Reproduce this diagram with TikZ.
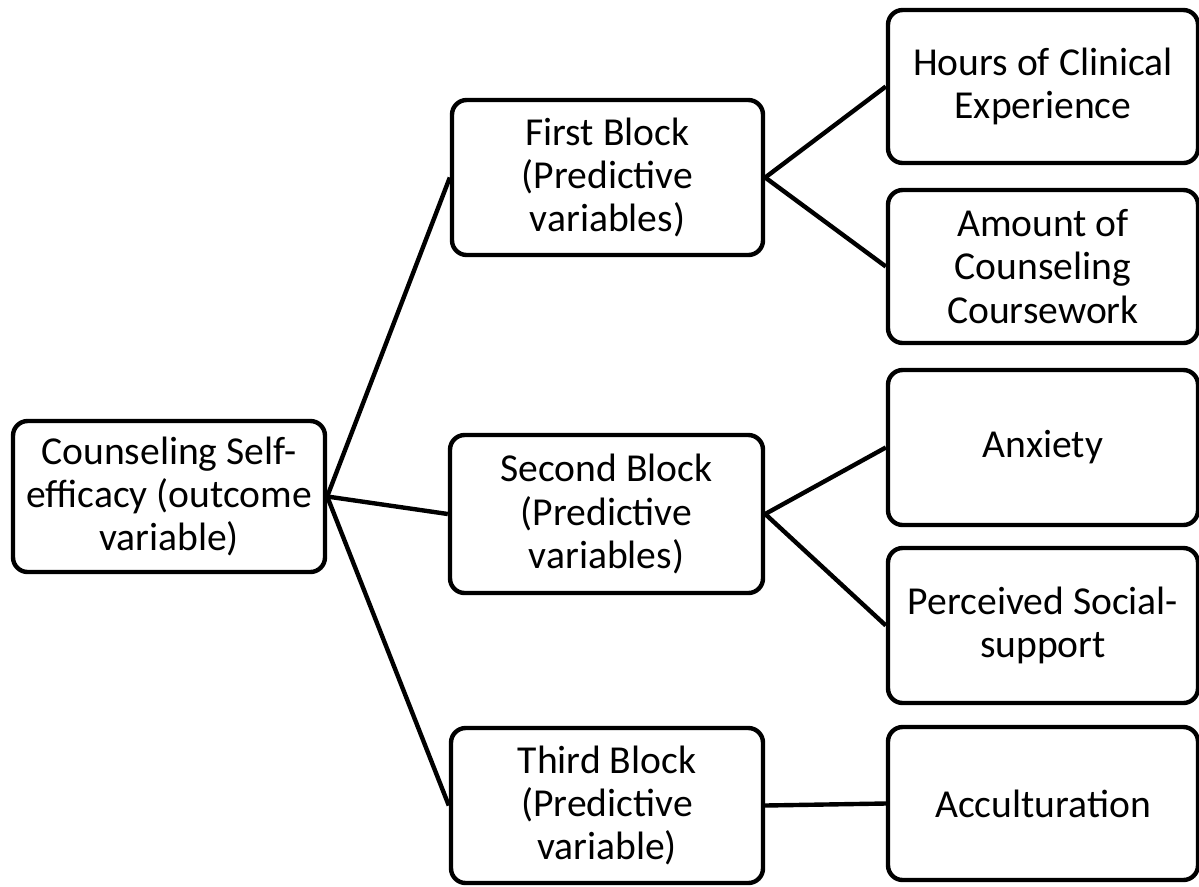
\documentclass[tikz,border=0pt]{standalone}
\usepackage{fontspec}
\setmainfont{Carlito}
\begin{document}
\begin{tikzpicture}[x=0.75pt,y=-0.75pt,
  box/.style={draw=black,line width=3.3pt,rounded corners=11pt,fill=white,align=center,
    inner sep=0pt,font=\fontsize{29.7}{32.5}\selectfont},
  link/.style={draw=black,line width=3.3pt}]
\useasboundingbox (0,0) rectangle (1199,886);
\node[box,minimum width=312*0.75pt,minimum height=151*0.75pt] (root) at (169,496.5) {Counseling Self-\\efficacy (outcome\\variable)};
\node[box,minimum width=311*0.75pt,minimum height=155*0.75pt] (b1) at (607.5,177.5) {First Block\\(Predictive\\variables)};
\node[box,minimum width=313*0.75pt,minimum height=158*0.75pt] (b2) at (606.5,514) {Second Block\\(Predictive\\variables)};
\node[box,minimum width=312*0.75pt,minimum height=155*0.75pt] (b3) at (607,805.5) {Third Block\\(Predictive\\variable)};
\node[box,minimum width=310*0.75pt,minimum height=153*0.75pt] (hours) at (1043,86.5) {Hours of Clinical\\Experience};
\node[box,minimum width=310*0.75pt,minimum height=153*0.75pt] (amount) at (1043,266.5) {Amount of\\Counseling\\Coursework};
\node[box,minimum width=310*0.75pt,minimum height=155*0.75pt] (anx) at (1043,447.5) {Anxiety};
\node[box,minimum width=310*0.75pt,minimum height=155*0.75pt] (pss) at (1043,625.5) {Perceived Social-\\support};
\node[box,minimum width=310*0.75pt,minimum height=153*0.75pt] (acc) at (1043,803.5) {Acculturation};
\draw[link] (root.east) -- (b1.west);
\draw[link] (root.east) -- (b2.west);
\draw[link] (root.east) -- (b3.west);
\draw[link] (b1.east) -- (hours.west);
\draw[link] (b1.east) -- (amount.west);
\draw[link] (b2.east) -- (anx.west);
\draw[link] (b2.east) -- (pss.west);
\draw[link] (b3.east) -- (acc.west);
\end{tikzpicture}
\end{document}
